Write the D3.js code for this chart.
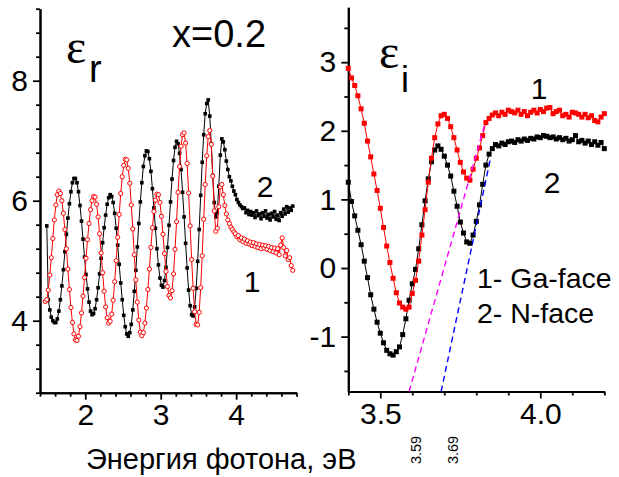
<!DOCTYPE html>
<html>
<head>
<meta charset="utf-8">
<script src="https://cdn.jsdelivr.net/npm/d3@7"></script>
<style>
  body { margin: 0; background: #fff; }
  svg { display: block; }
</style>
</head>
<body>
<svg id="chart" width="619" height="477"></svg>
<script>
// ---- real part of the dielectric function, 0.02 eV grid ----
const erStep = 0.02;
const erGaStart = 1.47;   // curve 1, Ga-face
const erGa = [
  4.32, 4.35, 4.51, 4.76, 5.05, 5.37, 5.68, 5.93, 6.10, 6.16,
  6.12, 6.00, 5.79, 5.52, 5.20, 4.86, 4.52, 4.22, 3.97, 3.78,
  3.68, 3.67, 3.74, 3.90, 4.13, 4.41, 4.72, 5.04, 5.35, 5.62,
  5.85, 6.00, 6.07, 6.06, 5.94, 5.73, 5.45, 5.13, 4.80, 4.49,
  4.23, 4.05, 3.96, 3.99, 4.11, 4.34, 4.65, 5.00, 5.39, 5.77,
  6.12, 6.40, 6.59, 6.69, 6.68, 6.54, 6.29, 5.93, 5.53, 5.10,
  4.68, 4.31, 4.01, 3.81, 3.75, 3.80, 3.96, 4.21, 4.52, 4.86,
  5.22, 5.55, 5.82, 6.01, 6.11, 6.10, 5.97, 5.74, 5.44, 5.12,
  4.82, 4.57, 4.42, 4.38, 4.50, 4.78, 5.19, 5.65, 6.14, 6.57,
  6.91, 7.10, 7.13, 6.96, 6.62, 6.13, 5.58, 5.02, 4.54, 4.15,
  3.94, 3.93, 4.14, 4.55, 5.08, 5.69, 6.27, 6.75, 7.07, 7.17,
  6.94, 6.41, 5.83, 5.49, 5.54, 5.90, 6.23, 6.27, 6.10, 5.92,
  5.78, 5.68, 5.62, 5.56, 5.52, 5.48, 5.45, 5.40, 5.42, 5.35,
  5.38, 5.32, 5.36, 5.29, 5.33, 5.28, 5.31, 5.25, 5.30, 5.24,
  5.28, 5.22, 5.27, 5.20, 5.26, 5.21, 5.25, 5.19, 5.24, 5.17,
  5.22, 5.15, 5.21, 5.13, 5.20, 5.10, 5.26, 5.38, 5.22, 5.08,
  5.17, 5.02, 5.05, 4.92, 4.84
];
const erNStart = 1.49;    // curve 2, N-face
const erN = [
  5.58, 4.35, 4.18, 4.06, 4.00, 3.97, 3.97, 4.03, 4.16, 4.35,
  4.58, 4.85, 5.15, 5.44, 5.71, 5.95, 6.15, 6.30, 6.37, 6.37,
  6.30, 6.15, 5.92, 5.66, 5.36, 5.06, 4.77, 4.53, 4.31, 4.16,
  4.10, 4.12, 4.20, 4.35, 4.55, 4.78, 5.04, 5.30, 5.55, 5.76,
  5.94, 6.05, 6.10, 6.07, 5.97, 5.79, 5.54, 5.26, 4.94, 4.63,
  4.35, 4.09, 3.90, 3.78, 3.74, 3.80, 3.94, 4.18, 4.49, 4.84,
  5.23, 5.62, 5.98, 6.30, 6.57, 6.75, 6.83, 6.82, 6.70, 6.49,
  6.20, 5.88, 5.54, 5.20, 4.93, 4.71, 4.59, 4.56, 4.67, 4.89,
  5.22, 5.59, 5.98, 6.36, 6.67, 6.89, 6.99, 6.95, 6.79, 6.52,
  6.14, 5.73, 5.29, 4.88, 4.51, 4.25, 4.10, 4.08, 4.23, 4.54,
  4.99, 5.52, 6.09, 6.64, 7.10, 7.45, 7.62, 7.68, 7.41, 6.95,
  6.42, 5.97, 5.73, 5.80, 6.24, 6.76, 7.03, 6.98, 6.85, 6.66,
  6.52, 6.40, 6.33, 6.24, 6.16, 6.10, 6.02, 5.97, 5.93, 5.90,
  5.87, 5.88, 5.80, 5.84, 5.77, 5.82, 5.76, 5.80, 5.72, 5.83,
  5.75, 5.78, 5.70, 5.80, 5.74, 5.83, 5.71, 5.77, 5.68, 5.79,
  5.73, 5.82, 5.69, 5.76, 5.67, 5.80, 5.74, 5.86, 5.78, 5.90,
  5.81, 5.88, 5.84, 5.91
];

// ---- imaginary part near the band edge, 0.01 eV grid ----
const eiStart = 3.40, eiStep = 0.01;
const eiGa = [
  2.91, 2.77, 2.66, 2.51, 2.32, 2.11, 1.85, 1.62, 1.37, 1.13,
  0.87, 0.59, 0.32, 0.08, -0.15, -0.36, -0.51, -0.57, -0.60, -0.57,
  -0.37, -0.18, 0.10, 0.48, 0.85, 1.25, 1.60, 1.90, 2.10, 2.22,
  2.24, 2.18, 2.06, 1.90, 1.72, 1.54, 1.40, 1.31, 1.28, 1.44,
  1.60, 1.75, 1.93, 2.12, 2.18, 2.23, 2.26, 2.22, 2.27, 2.24,
  2.30, 2.28, 2.26, 2.30, 2.24, 2.28, 2.22, 2.27, 2.30, 2.26,
  2.31, 2.28, 2.33, 2.34, 2.25, 2.28, 2.30, 2.22, 2.24, 2.20,
  2.27, 2.26, 2.24, 2.20, 2.24, 2.19, 2.22, 2.15, 2.13, 2.20,
  2.25
];
const eiN = [
  1.25, 0.97, 0.76, 0.55, 0.34, 0.10, -0.14, -0.39, -0.60, -0.79,
  -0.95, -1.09, -1.20, -1.25, -1.27, -1.22, -1.15, -0.97, -0.74, -0.47,
  -0.23, -0.02, 0.28, 0.63, 0.98, 1.30, 1.55, 1.72, 1.78, 1.73,
  1.63, 1.50, 1.34, 1.12, 0.90, 0.67, 0.51, 0.38, 0.36, 0.48,
  0.68, 0.92, 1.22, 1.50, 1.66, 1.74, 1.80, 1.78, 1.82, 1.80,
  1.84, 1.85, 1.83, 1.87, 1.85, 1.88, 1.86, 1.89, 1.88, 1.91,
  1.90, 1.93, 1.92, 1.90, 1.91, 1.88, 1.90, 1.87, 1.89, 1.85,
  1.87, 1.93, 1.84, 1.86, 1.82, 1.85, 1.80, 1.84, 1.79, 1.83,
  1.74
];

// linear extrapolations of the absorption edges (start on the axis, end point)
const edgeGa = [[3.59, -1.8], [3.828, 2.12]];
const edgeN  = [[3.69, -1.8], [3.843, 1.57]];
const edgeLabels = ["3.59", "3.69"];

// axis ticks
const erMajorX = [2, 3, 4];
const erMinorX = [1.4, 1.6, 1.8, 2.2, 2.4, 2.6, 2.8, 3.2, 3.4, 3.6, 3.8, 4.2, 4.4, 4.6, 4.8];
const erMajorY = [4, 6, 8];
const erMinorY = [2.8, 3.2, 3.6, 4.4, 4.8, 5.2, 5.6, 6.4, 6.8, 7.2, 7.6, 8.4, 8.8, 9.2];
const eiMajorX = [3.5, 4.0];
const eiMinorX = [3.4, 3.6, 3.7, 3.8, 3.9, 4.1, 4.2];
const eiMajorY = [-1, 0, 1, 2, 3];
const eiMinorY = [-1.5, -0.5, 0.5, 1.5, 2.5, 3.5];

const legendLines = ["1- Ga-face", "2- N-face"];
const xTitle = "Энергия фотона, эВ";

const SANS = "Arial, 'Liberation Sans', Helvetica, sans-serif";
const SERIF = "'Times New Roman', 'Liberation Serif', serif";
const RED = "#ff0000";

const svg = d3.select("#chart");

const xL = d3.scaleLinear().domain([1.4, 4.8]).range([40, 296.5]);
const yL = d3.scaleLinear().domain([2.8, 9.2]).range([392.7, 8.7]);
const xR = d3.scaleLinear().domain([3.4, 4.2]).range([348.3, 604.3]);
const yR = d3.scaleLinear().domain([-1.8, 3.8]).range([391.5, 7.3]);

function drawAxes(x, y, majX, minX, majY, minY, fmtX, fmtY) {
  const g = svg.append("g");
  const y0 = y.range()[0], x0 = x.range()[0];
  g.append("g").attr("transform", `translate(0,${y0})`)
    .call(d3.axisBottom(x).tickValues(minX).tickSize(4).tickSizeOuter(0).tickFormat(""));
  g.append("g").attr("transform", `translate(0,${y0})`)
    .call(d3.axisBottom(x).tickValues(majX).tickSize(7).tickSizeOuter(0).tickPadding(4).tickFormat(fmtX));
  g.append("g").attr("transform", `translate(${x0},0)`)
    .call(d3.axisLeft(y).tickValues(minY).tickSize(4).tickSizeOuter(0).tickFormat(""));
  g.append("g").attr("transform", `translate(${x0},0)`)
    .call(d3.axisLeft(y).tickValues(majY).tickSize(7).tickSizeOuter(0).tickPadding(5).tickFormat(fmtY));
  g.selectAll(".domain").attr("stroke", "#000").attr("stroke-width", 2);
  g.selectAll(".tick line").attr("stroke", "#000").attr("stroke-width", 1.8);
  g.selectAll(".tick text").attr("font-family", SANS).attr("font-size", 30).attr("fill", "#000");
  return g;
}

function drawSeries(x, y, start, step, vals, color, marker, size) {
  const pts = vals.map((v, i) => [start + i * step, v]);
  const g = svg.append("g");
  g.append("path").datum(pts)
    .attr("fill", "none").attr("stroke", color).attr("stroke-width", 1)
    .attr("d", d3.line().x(d => x(d[0])).y(d => y(d[1])));
  if (marker === "circle") {
    g.selectAll("circle").data(pts).join("circle")
      .attr("cx", d => x(d[0])).attr("cy", d => y(d[1])).attr("r", size)
      .attr("fill", "#fff").attr("stroke", color).attr("stroke-width", 1);
  } else {
    g.selectAll("rect").data(pts).join("rect")
      .attr("x", d => x(d[0]) - size / 2).attr("y", d => y(d[1]) - size / 2)
      .attr("width", size).attr("height", size).attr("fill", color);
  }
}

function label(txt, x, y, size, opts = {}) {
  return svg.append("text").attr("x", x).attr("y", y)
    .attr("font-family", opts.family || SANS).attr("font-size", size)
    .attr("text-anchor", opts.anchor || "start").attr("fill", "#000").text(txt);
}

// left panel: epsilon_r
drawAxes(xL, yL, erMajorX, erMinorX, erMajorY, erMinorY, d => String(d), d => String(d));
drawSeries(xL, yL, erNStart, erStep, erN, "#000", "square", 3.6);
drawSeries(xL, yL, erGaStart, erStep, erGa, RED, "circle", 2.1);

// right panel: epsilon_i
drawAxes(xR, yR, eiMajorX, eiMinorX, eiMajorY, eiMinorY, d => d.toFixed(1), d => String(d));
drawSeries(xR, yR, eiStart, eiStep, eiN, "#000", "square", 5);
drawSeries(xR, yR, eiStart, eiStep, eiGa, RED, "square", 5);

// edge extrapolation lines and their intercept labels
const edgeLabelDx = [7, 12];
[[edgeGa, "#ff00ff"], [edgeN, "#0000ff"]].forEach(([seg, col], i) => {
  svg.append("line")
    .attr("x1", xR(seg[0][0])).attr("y1", yR(seg[0][1]))
    .attr("x2", xR(seg[1][0])).attr("y2", yR(seg[1][1]))
    .attr("stroke", col).attr("stroke-width", 1.4).attr("stroke-dasharray", "6,4");
  svg.append("text")
    .attr("transform", `translate(${xR(seg[0][0]) + edgeLabelDx[i]},450) rotate(-90)`)
    .attr("text-anchor", "middle").attr("dy", "0.35em")
    .attr("font-family", SANS).attr("font-size", 14.5).attr("fill", "#000")
    .text(edgeLabels[i]);
});

// panel annotations
label("ε", 66, 63, 48, { family: SERIF });
label("r", 89, 82, 38);
label("x=0.2", 172, 47, 38);
label("2", 265, 197, 30, { anchor: "middle" });
label("1", 252, 292, 30, { anchor: "middle" });

label("ε", 379, 68, 48, { family: SERIF });
label("i", 401, 92, 36);
label("1", 539, 99, 30, { anchor: "middle" });
label("2", 552, 193, 30, { anchor: "middle" });
label(legendLines[0], 477, 288, 28.5);
label(legendLines[1], 477, 323, 28.5);

label(xTitle, 86, 469, 29);
</script>
</body>
</html>
